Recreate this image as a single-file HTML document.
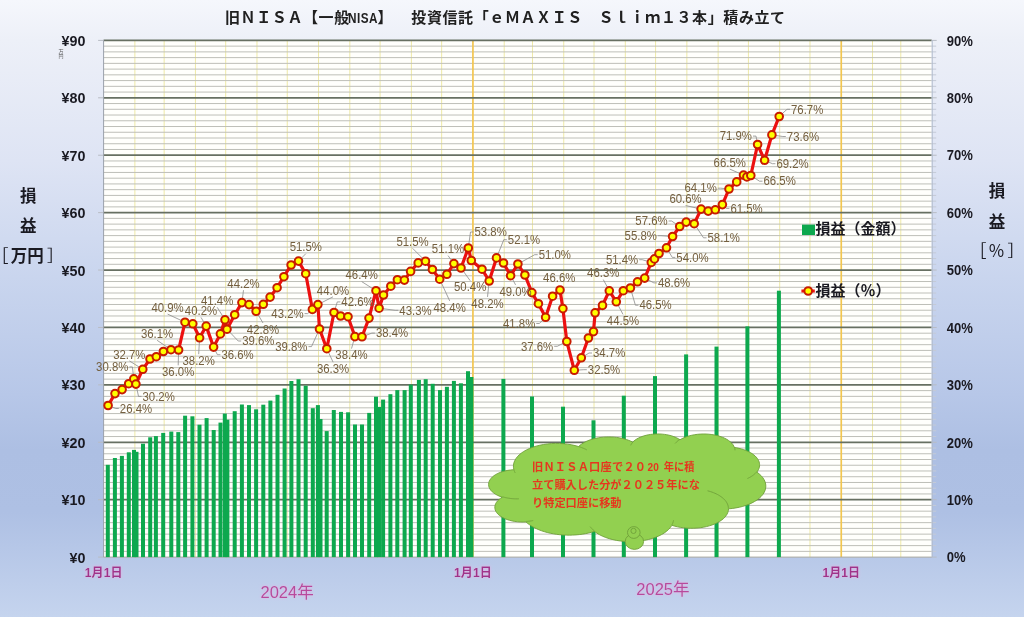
<!DOCTYPE html><html><head><meta charset="utf-8"><style>html,body{margin:0;padding:0;background:#fff;}svg{display:block}.jp{font-family:"Liberation Sans","Noto Sans CJK JP",sans-serif}</style></head><body>
<svg width="1024" height="617" viewBox="0 0 1024 617">
<defs>
<linearGradient id="bg" x1="0" y1="0" x2="0" y2="1">
<stop offset="0" stop-color="#F5F7FC"/>
<stop offset="0.065" stop-color="#EDF0F8"/>
<stop offset="0.26" stop-color="#DEE4F4"/>
<stop offset="0.45" stop-color="#C9D5EE"/>
<stop offset="0.64" stop-color="#B7C7E8"/>
<stop offset="0.73" stop-color="#ADBFE3"/>
<stop offset="0.83" stop-color="#AEC0E4"/>
<stop offset="1" stop-color="#C5D4EE"/>
</linearGradient>
<filter id="glow" x="-20%" y="-40%" width="140%" height="180%">
<feGaussianBlur in="SourceAlpha" stdDeviation="1.6" result="b"/>
<feFlood flood-color="#F0A8E0" flood-opacity="0.9"/>
<feComposite in2="b" operator="in" result="g"/>
<feMerge><feMergeNode in="g"/><feMergeNode in="SourceGraphic"/></feMerge>
</filter>
</defs>
<rect x="0" y="0" width="1024" height="617" fill="url(#bg)"/>
<rect x="103.6" y="40.4" width="828.10" height="516.70" fill="#FFFFFC"/>
<line x1="134.88" y1="40.4" x2="134.88" y2="557.1" stroke="#EEE9A6" stroke-width="1"/><line x1="164.15" y1="40.4" x2="164.15" y2="557.1" stroke="#EEE9A6" stroke-width="1"/><line x1="195.43" y1="40.4" x2="195.43" y2="557.1" stroke="#EEE9A6" stroke-width="1"/><line x1="225.70" y1="40.4" x2="225.70" y2="557.1" stroke="#EEE9A6" stroke-width="1"/><line x1="256.98" y1="40.4" x2="256.98" y2="557.1" stroke="#EEE9A6" stroke-width="1"/><line x1="287.26" y1="40.4" x2="287.26" y2="557.1" stroke="#EEE9A6" stroke-width="1"/><line x1="318.54" y1="40.4" x2="318.54" y2="557.1" stroke="#EEE9A6" stroke-width="1"/><line x1="349.82" y1="40.4" x2="349.82" y2="557.1" stroke="#EEE9A6" stroke-width="1"/><line x1="380.09" y1="40.4" x2="380.09" y2="557.1" stroke="#EEE9A6" stroke-width="1"/><line x1="411.38" y1="40.4" x2="411.38" y2="557.1" stroke="#EEE9A6" stroke-width="1"/><line x1="441.65" y1="40.4" x2="441.65" y2="557.1" stroke="#EEE9A6" stroke-width="1"/><line x1="504.21" y1="40.4" x2="504.21" y2="557.1" stroke="#EEE9A6" stroke-width="1"/><line x1="532.47" y1="40.4" x2="532.47" y2="557.1" stroke="#EEE9A6" stroke-width="1"/><line x1="563.75" y1="40.4" x2="563.75" y2="557.1" stroke="#EEE9A6" stroke-width="1"/><line x1="594.02" y1="40.4" x2="594.02" y2="557.1" stroke="#EEE9A6" stroke-width="1"/><line x1="625.30" y1="40.4" x2="625.30" y2="557.1" stroke="#EEE9A6" stroke-width="1"/><line x1="655.58" y1="40.4" x2="655.58" y2="557.1" stroke="#EEE9A6" stroke-width="1"/><line x1="686.86" y1="40.4" x2="686.86" y2="557.1" stroke="#EEE9A6" stroke-width="1"/><line x1="718.14" y1="40.4" x2="718.14" y2="557.1" stroke="#EEE9A6" stroke-width="1"/><line x1="748.41" y1="40.4" x2="748.41" y2="557.1" stroke="#EEE9A6" stroke-width="1"/><line x1="779.70" y1="40.4" x2="779.70" y2="557.1" stroke="#EEE9A6" stroke-width="1"/><line x1="809.97" y1="40.4" x2="809.97" y2="557.1" stroke="#EEE9A6" stroke-width="1"/><line x1="872.53" y1="40.4" x2="872.53" y2="557.1" stroke="#EEE9A6" stroke-width="1"/><line x1="900.79" y1="40.4" x2="900.79" y2="557.1" stroke="#EEE9A6" stroke-width="1"/>
<line x1="103.6" y1="551.36" x2="931.7" y2="551.36" stroke="#BEBFB8" stroke-width="1"/><line x1="103.6" y1="545.62" x2="931.7" y2="545.62" stroke="#BEBFB8" stroke-width="1"/><line x1="103.6" y1="539.88" x2="931.7" y2="539.88" stroke="#BEBFB8" stroke-width="1"/><line x1="103.6" y1="534.14" x2="931.7" y2="534.14" stroke="#BEBFB8" stroke-width="1"/><line x1="103.6" y1="528.39" x2="931.7" y2="528.39" stroke="#BEBFB8" stroke-width="1"/><line x1="103.6" y1="522.65" x2="931.7" y2="522.65" stroke="#BEBFB8" stroke-width="1"/><line x1="103.6" y1="516.91" x2="931.7" y2="516.91" stroke="#BEBFB8" stroke-width="1"/><line x1="103.6" y1="511.17" x2="931.7" y2="511.17" stroke="#BEBFB8" stroke-width="1"/><line x1="103.6" y1="505.43" x2="931.7" y2="505.43" stroke="#BEBFB8" stroke-width="1"/><line x1="103.6" y1="493.95" x2="931.7" y2="493.95" stroke="#BEBFB8" stroke-width="1"/><line x1="103.6" y1="488.21" x2="931.7" y2="488.21" stroke="#BEBFB8" stroke-width="1"/><line x1="103.6" y1="482.47" x2="931.7" y2="482.47" stroke="#BEBFB8" stroke-width="1"/><line x1="103.6" y1="476.72" x2="931.7" y2="476.72" stroke="#BEBFB8" stroke-width="1"/><line x1="103.6" y1="470.98" x2="931.7" y2="470.98" stroke="#BEBFB8" stroke-width="1"/><line x1="103.6" y1="465.24" x2="931.7" y2="465.24" stroke="#BEBFB8" stroke-width="1"/><line x1="103.6" y1="459.50" x2="931.7" y2="459.50" stroke="#BEBFB8" stroke-width="1"/><line x1="103.6" y1="453.76" x2="931.7" y2="453.76" stroke="#BEBFB8" stroke-width="1"/><line x1="103.6" y1="448.02" x2="931.7" y2="448.02" stroke="#BEBFB8" stroke-width="1"/><line x1="103.6" y1="436.54" x2="931.7" y2="436.54" stroke="#BEBFB8" stroke-width="1"/><line x1="103.6" y1="430.80" x2="931.7" y2="430.80" stroke="#BEBFB8" stroke-width="1"/><line x1="103.6" y1="425.05" x2="931.7" y2="425.05" stroke="#BEBFB8" stroke-width="1"/><line x1="103.6" y1="419.31" x2="931.7" y2="419.31" stroke="#BEBFB8" stroke-width="1"/><line x1="103.6" y1="413.57" x2="931.7" y2="413.57" stroke="#BEBFB8" stroke-width="1"/><line x1="103.6" y1="407.83" x2="931.7" y2="407.83" stroke="#BEBFB8" stroke-width="1"/><line x1="103.6" y1="402.09" x2="931.7" y2="402.09" stroke="#BEBFB8" stroke-width="1"/><line x1="103.6" y1="396.35" x2="931.7" y2="396.35" stroke="#BEBFB8" stroke-width="1"/><line x1="103.6" y1="390.61" x2="931.7" y2="390.61" stroke="#BEBFB8" stroke-width="1"/><line x1="103.6" y1="379.13" x2="931.7" y2="379.13" stroke="#BEBFB8" stroke-width="1"/><line x1="103.6" y1="373.38" x2="931.7" y2="373.38" stroke="#BEBFB8" stroke-width="1"/><line x1="103.6" y1="367.64" x2="931.7" y2="367.64" stroke="#BEBFB8" stroke-width="1"/><line x1="103.6" y1="361.90" x2="931.7" y2="361.90" stroke="#BEBFB8" stroke-width="1"/><line x1="103.6" y1="356.16" x2="931.7" y2="356.16" stroke="#BEBFB8" stroke-width="1"/><line x1="103.6" y1="350.42" x2="931.7" y2="350.42" stroke="#BEBFB8" stroke-width="1"/><line x1="103.6" y1="344.68" x2="931.7" y2="344.68" stroke="#BEBFB8" stroke-width="1"/><line x1="103.6" y1="338.94" x2="931.7" y2="338.94" stroke="#BEBFB8" stroke-width="1"/><line x1="103.6" y1="333.20" x2="931.7" y2="333.20" stroke="#BEBFB8" stroke-width="1"/><line x1="103.6" y1="321.71" x2="931.7" y2="321.71" stroke="#BEBFB8" stroke-width="1"/><line x1="103.6" y1="315.97" x2="931.7" y2="315.97" stroke="#BEBFB8" stroke-width="1"/><line x1="103.6" y1="310.23" x2="931.7" y2="310.23" stroke="#BEBFB8" stroke-width="1"/><line x1="103.6" y1="304.49" x2="931.7" y2="304.49" stroke="#BEBFB8" stroke-width="1"/><line x1="103.6" y1="298.75" x2="931.7" y2="298.75" stroke="#BEBFB8" stroke-width="1"/><line x1="103.6" y1="293.01" x2="931.7" y2="293.01" stroke="#BEBFB8" stroke-width="1"/><line x1="103.6" y1="287.27" x2="931.7" y2="287.27" stroke="#BEBFB8" stroke-width="1"/><line x1="103.6" y1="281.53" x2="931.7" y2="281.53" stroke="#BEBFB8" stroke-width="1"/><line x1="103.6" y1="275.79" x2="931.7" y2="275.79" stroke="#BEBFB8" stroke-width="1"/><line x1="103.6" y1="264.30" x2="931.7" y2="264.30" stroke="#BEBFB8" stroke-width="1"/><line x1="103.6" y1="258.56" x2="931.7" y2="258.56" stroke="#BEBFB8" stroke-width="1"/><line x1="103.6" y1="252.82" x2="931.7" y2="252.82" stroke="#BEBFB8" stroke-width="1"/><line x1="103.6" y1="247.08" x2="931.7" y2="247.08" stroke="#BEBFB8" stroke-width="1"/><line x1="103.6" y1="241.34" x2="931.7" y2="241.34" stroke="#BEBFB8" stroke-width="1"/><line x1="103.6" y1="235.60" x2="931.7" y2="235.60" stroke="#BEBFB8" stroke-width="1"/><line x1="103.6" y1="229.86" x2="931.7" y2="229.86" stroke="#BEBFB8" stroke-width="1"/><line x1="103.6" y1="224.12" x2="931.7" y2="224.12" stroke="#BEBFB8" stroke-width="1"/><line x1="103.6" y1="218.37" x2="931.7" y2="218.37" stroke="#BEBFB8" stroke-width="1"/><line x1="103.6" y1="206.89" x2="931.7" y2="206.89" stroke="#BEBFB8" stroke-width="1"/><line x1="103.6" y1="201.15" x2="931.7" y2="201.15" stroke="#BEBFB8" stroke-width="1"/><line x1="103.6" y1="195.41" x2="931.7" y2="195.41" stroke="#BEBFB8" stroke-width="1"/><line x1="103.6" y1="189.67" x2="931.7" y2="189.67" stroke="#BEBFB8" stroke-width="1"/><line x1="103.6" y1="183.93" x2="931.7" y2="183.93" stroke="#BEBFB8" stroke-width="1"/><line x1="103.6" y1="178.19" x2="931.7" y2="178.19" stroke="#BEBFB8" stroke-width="1"/><line x1="103.6" y1="172.45" x2="931.7" y2="172.45" stroke="#BEBFB8" stroke-width="1"/><line x1="103.6" y1="166.70" x2="931.7" y2="166.70" stroke="#BEBFB8" stroke-width="1"/><line x1="103.6" y1="160.96" x2="931.7" y2="160.96" stroke="#BEBFB8" stroke-width="1"/><line x1="103.6" y1="149.48" x2="931.7" y2="149.48" stroke="#BEBFB8" stroke-width="1"/><line x1="103.6" y1="143.74" x2="931.7" y2="143.74" stroke="#BEBFB8" stroke-width="1"/><line x1="103.6" y1="138.00" x2="931.7" y2="138.00" stroke="#BEBFB8" stroke-width="1"/><line x1="103.6" y1="132.26" x2="931.7" y2="132.26" stroke="#BEBFB8" stroke-width="1"/><line x1="103.6" y1="126.52" x2="931.7" y2="126.52" stroke="#BEBFB8" stroke-width="1"/><line x1="103.6" y1="120.78" x2="931.7" y2="120.78" stroke="#BEBFB8" stroke-width="1"/><line x1="103.6" y1="115.03" x2="931.7" y2="115.03" stroke="#BEBFB8" stroke-width="1"/><line x1="103.6" y1="109.29" x2="931.7" y2="109.29" stroke="#BEBFB8" stroke-width="1"/><line x1="103.6" y1="103.55" x2="931.7" y2="103.55" stroke="#BEBFB8" stroke-width="1"/><line x1="103.6" y1="92.07" x2="931.7" y2="92.07" stroke="#BEBFB8" stroke-width="1"/><line x1="103.6" y1="86.33" x2="931.7" y2="86.33" stroke="#BEBFB8" stroke-width="1"/><line x1="103.6" y1="80.59" x2="931.7" y2="80.59" stroke="#BEBFB8" stroke-width="1"/><line x1="103.6" y1="74.85" x2="931.7" y2="74.85" stroke="#BEBFB8" stroke-width="1"/><line x1="103.6" y1="69.11" x2="931.7" y2="69.11" stroke="#BEBFB8" stroke-width="1"/><line x1="103.6" y1="63.36" x2="931.7" y2="63.36" stroke="#BEBFB8" stroke-width="1"/><line x1="103.6" y1="57.62" x2="931.7" y2="57.62" stroke="#BEBFB8" stroke-width="1"/><line x1="103.6" y1="51.88" x2="931.7" y2="51.88" stroke="#BEBFB8" stroke-width="1"/><line x1="103.6" y1="46.14" x2="931.7" y2="46.14" stroke="#BEBFB8" stroke-width="1"/>
<line x1="931.7" y1="551.36" x2="936.2" y2="551.36" stroke="#C4CAD6" stroke-width="1"/><line x1="931.7" y1="545.62" x2="936.2" y2="545.62" stroke="#C4CAD6" stroke-width="1"/><line x1="931.7" y1="539.88" x2="936.2" y2="539.88" stroke="#C4CAD6" stroke-width="1"/><line x1="931.7" y1="534.14" x2="936.2" y2="534.14" stroke="#C4CAD6" stroke-width="1"/><line x1="931.7" y1="528.39" x2="936.2" y2="528.39" stroke="#C4CAD6" stroke-width="1"/><line x1="931.7" y1="522.65" x2="936.2" y2="522.65" stroke="#C4CAD6" stroke-width="1"/><line x1="931.7" y1="516.91" x2="936.2" y2="516.91" stroke="#C4CAD6" stroke-width="1"/><line x1="931.7" y1="511.17" x2="936.2" y2="511.17" stroke="#C4CAD6" stroke-width="1"/><line x1="931.7" y1="505.43" x2="936.2" y2="505.43" stroke="#C4CAD6" stroke-width="1"/><line x1="931.7" y1="493.95" x2="936.2" y2="493.95" stroke="#C4CAD6" stroke-width="1"/><line x1="931.7" y1="488.21" x2="936.2" y2="488.21" stroke="#C4CAD6" stroke-width="1"/><line x1="931.7" y1="482.47" x2="936.2" y2="482.47" stroke="#C4CAD6" stroke-width="1"/><line x1="931.7" y1="476.72" x2="936.2" y2="476.72" stroke="#C4CAD6" stroke-width="1"/><line x1="931.7" y1="470.98" x2="936.2" y2="470.98" stroke="#C4CAD6" stroke-width="1"/><line x1="931.7" y1="465.24" x2="936.2" y2="465.24" stroke="#C4CAD6" stroke-width="1"/><line x1="931.7" y1="459.50" x2="936.2" y2="459.50" stroke="#C4CAD6" stroke-width="1"/><line x1="931.7" y1="453.76" x2="936.2" y2="453.76" stroke="#C4CAD6" stroke-width="1"/><line x1="931.7" y1="448.02" x2="936.2" y2="448.02" stroke="#C4CAD6" stroke-width="1"/><line x1="931.7" y1="436.54" x2="936.2" y2="436.54" stroke="#C4CAD6" stroke-width="1"/><line x1="931.7" y1="430.80" x2="936.2" y2="430.80" stroke="#C4CAD6" stroke-width="1"/><line x1="931.7" y1="425.05" x2="936.2" y2="425.05" stroke="#C4CAD6" stroke-width="1"/><line x1="931.7" y1="419.31" x2="936.2" y2="419.31" stroke="#C4CAD6" stroke-width="1"/><line x1="931.7" y1="413.57" x2="936.2" y2="413.57" stroke="#C4CAD6" stroke-width="1"/><line x1="931.7" y1="407.83" x2="936.2" y2="407.83" stroke="#C4CAD6" stroke-width="1"/><line x1="931.7" y1="402.09" x2="936.2" y2="402.09" stroke="#C4CAD6" stroke-width="1"/><line x1="931.7" y1="396.35" x2="936.2" y2="396.35" stroke="#C4CAD6" stroke-width="1"/><line x1="931.7" y1="390.61" x2="936.2" y2="390.61" stroke="#C4CAD6" stroke-width="1"/><line x1="931.7" y1="379.13" x2="936.2" y2="379.13" stroke="#C4CAD6" stroke-width="1"/><line x1="931.7" y1="373.38" x2="936.2" y2="373.38" stroke="#C4CAD6" stroke-width="1"/><line x1="931.7" y1="367.64" x2="936.2" y2="367.64" stroke="#C4CAD6" stroke-width="1"/><line x1="931.7" y1="361.90" x2="936.2" y2="361.90" stroke="#C4CAD6" stroke-width="1"/><line x1="931.7" y1="356.16" x2="936.2" y2="356.16" stroke="#C4CAD6" stroke-width="1"/><line x1="931.7" y1="350.42" x2="936.2" y2="350.42" stroke="#C4CAD6" stroke-width="1"/><line x1="931.7" y1="344.68" x2="936.2" y2="344.68" stroke="#C4CAD6" stroke-width="1"/><line x1="931.7" y1="338.94" x2="936.2" y2="338.94" stroke="#C4CAD6" stroke-width="1"/><line x1="931.7" y1="333.20" x2="936.2" y2="333.20" stroke="#C4CAD6" stroke-width="1"/><line x1="931.7" y1="321.71" x2="936.2" y2="321.71" stroke="#C4CAD6" stroke-width="1"/><line x1="931.7" y1="315.97" x2="936.2" y2="315.97" stroke="#C4CAD6" stroke-width="1"/><line x1="931.7" y1="310.23" x2="936.2" y2="310.23" stroke="#C4CAD6" stroke-width="1"/><line x1="931.7" y1="304.49" x2="936.2" y2="304.49" stroke="#C4CAD6" stroke-width="1"/><line x1="931.7" y1="298.75" x2="936.2" y2="298.75" stroke="#C4CAD6" stroke-width="1"/><line x1="931.7" y1="293.01" x2="936.2" y2="293.01" stroke="#C4CAD6" stroke-width="1"/><line x1="931.7" y1="287.27" x2="936.2" y2="287.27" stroke="#C4CAD6" stroke-width="1"/><line x1="931.7" y1="281.53" x2="936.2" y2="281.53" stroke="#C4CAD6" stroke-width="1"/><line x1="931.7" y1="275.79" x2="936.2" y2="275.79" stroke="#C4CAD6" stroke-width="1"/><line x1="931.7" y1="264.30" x2="936.2" y2="264.30" stroke="#C4CAD6" stroke-width="1"/><line x1="931.7" y1="258.56" x2="936.2" y2="258.56" stroke="#C4CAD6" stroke-width="1"/><line x1="931.7" y1="252.82" x2="936.2" y2="252.82" stroke="#C4CAD6" stroke-width="1"/><line x1="931.7" y1="247.08" x2="936.2" y2="247.08" stroke="#C4CAD6" stroke-width="1"/><line x1="931.7" y1="241.34" x2="936.2" y2="241.34" stroke="#C4CAD6" stroke-width="1"/><line x1="931.7" y1="235.60" x2="936.2" y2="235.60" stroke="#C4CAD6" stroke-width="1"/><line x1="931.7" y1="229.86" x2="936.2" y2="229.86" stroke="#C4CAD6" stroke-width="1"/><line x1="931.7" y1="224.12" x2="936.2" y2="224.12" stroke="#C4CAD6" stroke-width="1"/><line x1="931.7" y1="218.37" x2="936.2" y2="218.37" stroke="#C4CAD6" stroke-width="1"/><line x1="931.7" y1="206.89" x2="936.2" y2="206.89" stroke="#C4CAD6" stroke-width="1"/><line x1="931.7" y1="201.15" x2="936.2" y2="201.15" stroke="#C4CAD6" stroke-width="1"/><line x1="931.7" y1="195.41" x2="936.2" y2="195.41" stroke="#C4CAD6" stroke-width="1"/><line x1="931.7" y1="189.67" x2="936.2" y2="189.67" stroke="#C4CAD6" stroke-width="1"/><line x1="931.7" y1="183.93" x2="936.2" y2="183.93" stroke="#C4CAD6" stroke-width="1"/><line x1="931.7" y1="178.19" x2="936.2" y2="178.19" stroke="#C4CAD6" stroke-width="1"/><line x1="931.7" y1="172.45" x2="936.2" y2="172.45" stroke="#C4CAD6" stroke-width="1"/><line x1="931.7" y1="166.70" x2="936.2" y2="166.70" stroke="#C4CAD6" stroke-width="1"/><line x1="931.7" y1="160.96" x2="936.2" y2="160.96" stroke="#C4CAD6" stroke-width="1"/><line x1="931.7" y1="149.48" x2="936.2" y2="149.48" stroke="#C4CAD6" stroke-width="1"/><line x1="931.7" y1="143.74" x2="936.2" y2="143.74" stroke="#C4CAD6" stroke-width="1"/><line x1="931.7" y1="138.00" x2="936.2" y2="138.00" stroke="#C4CAD6" stroke-width="1"/><line x1="931.7" y1="132.26" x2="936.2" y2="132.26" stroke="#C4CAD6" stroke-width="1"/><line x1="931.7" y1="126.52" x2="936.2" y2="126.52" stroke="#C4CAD6" stroke-width="1"/><line x1="931.7" y1="120.78" x2="936.2" y2="120.78" stroke="#C4CAD6" stroke-width="1"/><line x1="931.7" y1="115.03" x2="936.2" y2="115.03" stroke="#C4CAD6" stroke-width="1"/><line x1="931.7" y1="109.29" x2="936.2" y2="109.29" stroke="#C4CAD6" stroke-width="1"/><line x1="931.7" y1="103.55" x2="936.2" y2="103.55" stroke="#C4CAD6" stroke-width="1"/><line x1="931.7" y1="92.07" x2="936.2" y2="92.07" stroke="#C4CAD6" stroke-width="1"/><line x1="931.7" y1="86.33" x2="936.2" y2="86.33" stroke="#C4CAD6" stroke-width="1"/><line x1="931.7" y1="80.59" x2="936.2" y2="80.59" stroke="#C4CAD6" stroke-width="1"/><line x1="931.7" y1="74.85" x2="936.2" y2="74.85" stroke="#C4CAD6" stroke-width="1"/><line x1="931.7" y1="69.11" x2="936.2" y2="69.11" stroke="#C4CAD6" stroke-width="1"/><line x1="931.7" y1="63.36" x2="936.2" y2="63.36" stroke="#C4CAD6" stroke-width="1"/><line x1="931.7" y1="57.62" x2="936.2" y2="57.62" stroke="#C4CAD6" stroke-width="1"/><line x1="931.7" y1="51.88" x2="936.2" y2="51.88" stroke="#C4CAD6" stroke-width="1"/><line x1="931.7" y1="46.14" x2="936.2" y2="46.14" stroke="#C4CAD6" stroke-width="1"/>
<line x1="472.93" y1="40.4" x2="472.93" y2="557.1" stroke="#F2C650" stroke-width="1.7"/>
<line x1="841.25" y1="40.4" x2="841.25" y2="557.1" stroke="#F2C650" stroke-width="1.7"/>
<line x1="98.1" y1="557.10" x2="103.6" y2="557.10" stroke="#B8BCC4" stroke-width="1"/><line x1="931.7" y1="557.10" x2="936.7" y2="557.10" stroke="#B8BCC4" stroke-width="1"/><line x1="103.6" y1="499.69" x2="931.7" y2="499.69" stroke="#677062" stroke-width="1.7"/><line x1="98.1" y1="499.69" x2="103.6" y2="499.69" stroke="#B8BCC4" stroke-width="1"/><line x1="931.7" y1="499.69" x2="936.7" y2="499.69" stroke="#B8BCC4" stroke-width="1"/><line x1="103.6" y1="442.28" x2="931.7" y2="442.28" stroke="#677062" stroke-width="1.7"/><line x1="98.1" y1="442.28" x2="103.6" y2="442.28" stroke="#B8BCC4" stroke-width="1"/><line x1="931.7" y1="442.28" x2="936.7" y2="442.28" stroke="#B8BCC4" stroke-width="1"/><line x1="103.6" y1="384.87" x2="931.7" y2="384.87" stroke="#677062" stroke-width="1.7"/><line x1="98.1" y1="384.87" x2="103.6" y2="384.87" stroke="#B8BCC4" stroke-width="1"/><line x1="931.7" y1="384.87" x2="936.7" y2="384.87" stroke="#B8BCC4" stroke-width="1"/><line x1="103.6" y1="327.46" x2="931.7" y2="327.46" stroke="#677062" stroke-width="1.7"/><line x1="98.1" y1="327.46" x2="103.6" y2="327.46" stroke="#B8BCC4" stroke-width="1"/><line x1="931.7" y1="327.46" x2="936.7" y2="327.46" stroke="#B8BCC4" stroke-width="1"/><line x1="103.6" y1="270.04" x2="931.7" y2="270.04" stroke="#677062" stroke-width="1.7"/><line x1="98.1" y1="270.04" x2="103.6" y2="270.04" stroke="#B8BCC4" stroke-width="1"/><line x1="931.7" y1="270.04" x2="936.7" y2="270.04" stroke="#B8BCC4" stroke-width="1"/><line x1="103.6" y1="212.63" x2="931.7" y2="212.63" stroke="#677062" stroke-width="1.7"/><line x1="98.1" y1="212.63" x2="103.6" y2="212.63" stroke="#B8BCC4" stroke-width="1"/><line x1="931.7" y1="212.63" x2="936.7" y2="212.63" stroke="#B8BCC4" stroke-width="1"/><line x1="103.6" y1="155.22" x2="931.7" y2="155.22" stroke="#677062" stroke-width="1.7"/><line x1="98.1" y1="155.22" x2="103.6" y2="155.22" stroke="#B8BCC4" stroke-width="1"/><line x1="931.7" y1="155.22" x2="936.7" y2="155.22" stroke="#B8BCC4" stroke-width="1"/><line x1="103.6" y1="97.81" x2="931.7" y2="97.81" stroke="#677062" stroke-width="1.7"/><line x1="98.1" y1="97.81" x2="103.6" y2="97.81" stroke="#B8BCC4" stroke-width="1"/><line x1="931.7" y1="97.81" x2="936.7" y2="97.81" stroke="#B8BCC4" stroke-width="1"/><line x1="103.6" y1="40.40" x2="931.7" y2="40.40" stroke="#677062" stroke-width="1.7"/><line x1="98.1" y1="40.40" x2="103.6" y2="40.40" stroke="#B8BCC4" stroke-width="1"/><line x1="931.7" y1="40.40" x2="936.7" y2="40.40" stroke="#B8BCC4" stroke-width="1"/>
<line x1="103.6" y1="40.4" x2="103.6" y2="557.1" stroke="#9AA0AA" stroke-width="1"/>
<line x1="103.6" y1="557.1" x2="931.7" y2="557.1" stroke="#A8A8A0" stroke-width="1"/>
<line x1="932.2" y1="40.4" x2="932.2" y2="557.1" stroke="#B0BACB" stroke-width="1"/>
<rect x="105.80" y="464.80" width="4.0" height="92.30" fill="#0DA84E"/><rect x="112.90" y="458.00" width="4.0" height="99.10" fill="#0DA84E"/><rect x="119.90" y="455.90" width="4.0" height="101.20" fill="#0DA84E"/><rect x="126.80" y="452.30" width="4.0" height="104.80" fill="#0DA84E"/><rect x="132.00" y="449.90" width="4.0" height="107.20" fill="#0DA84E"/><rect x="134.50" y="451.80" width="4.0" height="105.30" fill="#0DA84E"/><rect x="141.00" y="443.70" width="4.0" height="113.40" fill="#0DA84E"/><rect x="148.20" y="437.30" width="4.0" height="119.80" fill="#0DA84E"/><rect x="153.90" y="436.10" width="4.0" height="121.00" fill="#0DA84E"/><rect x="161.20" y="432.90" width="4.0" height="124.20" fill="#0DA84E"/><rect x="169.30" y="431.60" width="4.0" height="125.50" fill="#0DA84E"/><rect x="176.30" y="432.10" width="4.0" height="125.00" fill="#0DA84E"/><rect x="183.10" y="415.70" width="4.0" height="141.40" fill="#0DA84E"/><rect x="190.40" y="416.30" width="4.0" height="140.80" fill="#0DA84E"/><rect x="197.50" y="424.70" width="4.0" height="132.40" fill="#0DA84E"/><rect x="204.60" y="418.10" width="4.0" height="139.00" fill="#0DA84E"/><rect x="211.70" y="430.00" width="4.0" height="127.10" fill="#0DA84E"/><rect x="218.50" y="422.60" width="4.0" height="134.50" fill="#0DA84E"/><rect x="222.80" y="413.60" width="4.0" height="143.50" fill="#0DA84E"/><rect x="225.40" y="419.70" width="4.0" height="137.40" fill="#0DA84E"/><rect x="232.70" y="411.20" width="4.0" height="145.90" fill="#0DA84E"/><rect x="239.90" y="404.50" width="4.0" height="152.60" fill="#0DA84E"/><rect x="247.00" y="405.10" width="4.0" height="152.00" fill="#0DA84E"/><rect x="254.10" y="409.30" width="4.0" height="147.80" fill="#0DA84E"/><rect x="261.30" y="404.70" width="4.0" height="152.40" fill="#0DA84E"/><rect x="268.40" y="400.60" width="4.0" height="156.50" fill="#0DA84E"/><rect x="275.50" y="394.80" width="4.0" height="162.30" fill="#0DA84E"/><rect x="282.60" y="388.50" width="4.0" height="168.60" fill="#0DA84E"/><rect x="289.40" y="381.00" width="4.0" height="176.10" fill="#0DA84E"/><rect x="296.50" y="379.20" width="4.0" height="177.90" fill="#0DA84E"/><rect x="303.70" y="385.70" width="4.0" height="171.40" fill="#0DA84E"/><rect x="310.80" y="408.20" width="4.0" height="148.90" fill="#0DA84E"/><rect x="315.90" y="405.10" width="4.0" height="152.00" fill="#0DA84E"/><rect x="318.50" y="419.00" width="4.0" height="138.10" fill="#0DA84E"/><rect x="324.70" y="431.10" width="4.0" height="126.00" fill="#0DA84E"/><rect x="331.80" y="410.00" width="4.0" height="147.10" fill="#0DA84E"/><rect x="339.00" y="411.90" width="4.0" height="145.20" fill="#0DA84E"/><rect x="346.10" y="412.30" width="4.0" height="144.80" fill="#0DA84E"/><rect x="353.00" y="424.50" width="4.0" height="132.60" fill="#0DA84E"/><rect x="360.00" y="424.50" width="4.0" height="132.60" fill="#0DA84E"/><rect x="367.20" y="412.90" width="4.0" height="144.20" fill="#0DA84E"/><rect x="374.00" y="396.70" width="4.0" height="160.40" fill="#0DA84E"/><rect x="377.10" y="406.90" width="4.0" height="150.20" fill="#0DA84E"/><rect x="381.10" y="399.60" width="4.0" height="157.50" fill="#0DA84E"/><rect x="388.40" y="394.20" width="4.0" height="162.90" fill="#0DA84E"/><rect x="395.30" y="390.10" width="4.0" height="167.00" fill="#0DA84E"/><rect x="402.60" y="390.10" width="4.0" height="167.00" fill="#0DA84E"/><rect x="408.80" y="384.60" width="4.0" height="172.50" fill="#0DA84E"/><rect x="416.90" y="379.90" width="4.0" height="177.20" fill="#0DA84E"/><rect x="423.70" y="379.20" width="4.0" height="177.90" fill="#0DA84E"/><rect x="430.70" y="383.80" width="4.0" height="173.30" fill="#0DA84E"/><rect x="438.00" y="390.10" width="4.0" height="167.00" fill="#0DA84E"/><rect x="444.90" y="386.80" width="4.0" height="170.30" fill="#0DA84E"/><rect x="451.90" y="380.90" width="4.0" height="176.20" fill="#0DA84E"/><rect x="458.90" y="383.30" width="4.0" height="173.80" fill="#0DA84E"/><rect x="466.00" y="371.20" width="4.0" height="185.90" fill="#0DA84E"/><rect x="469.40" y="377.00" width="4.0" height="180.10" fill="#0DA84E"/><rect x="501.40" y="378.90" width="4.0" height="178.20" fill="#0DA84E"/><rect x="530.00" y="396.50" width="4.0" height="160.60" fill="#0DA84E"/><rect x="561.00" y="406.70" width="4.0" height="150.40" fill="#0DA84E"/><rect x="591.50" y="420.30" width="4.0" height="136.80" fill="#0DA84E"/><rect x="621.80" y="395.70" width="4.0" height="161.40" fill="#0DA84E"/><rect x="653.00" y="376.10" width="4.0" height="181.00" fill="#0DA84E"/><rect x="684.10" y="354.40" width="4.0" height="202.70" fill="#0DA84E"/><rect x="714.50" y="346.60" width="4.0" height="210.50" fill="#0DA84E"/><rect x="745.40" y="326.40" width="4.0" height="230.70" fill="#0DA84E"/><rect x="776.90" y="290.70" width="4.0" height="266.40" fill="#0DA84E"/>
<path d="M513.80,469.39 L513.44,467.27 L513.46,465.14 L513.85,463.02 L514.62,460.92 L515.75,458.88 L517.23,456.89 L519.06,454.99 L521.21,453.19 L523.67,451.50 L526.42,449.94 L529.43,448.53 L532.68,447.26 L536.13,446.16 L539.77,445.24 L543.54,444.50 L547.44,443.95 L551.41,443.59 L555.43,443.43 L559.46,443.46 L563.47,443.70 L567.42,444.13 L571.27,444.76 L575.00,445.57 L578.57,446.56 L579.90,445.34 L581.41,444.19 L583.08,443.10 L584.90,442.09 L586.87,441.15 L588.97,440.29 L591.18,439.52 L593.51,438.85 L595.92,438.27 L598.41,437.80 L600.96,437.42 L603.56,437.16 L606.20,437.00 L608.84,436.95 L611.49,437.01 L614.12,437.17 L616.72,437.45 L619.27,437.82 L621.75,438.31 L624.16,438.89 L626.48,439.57 L628.69,440.34 L630.78,441.20 L632.74,442.15 L633.88,441.05 L635.19,440.01 L636.67,439.04 L638.29,438.13 L640.06,437.30 L641.95,436.55 L643.95,435.88 L646.05,435.31 L648.24,434.84 L650.49,434.46 L652.80,434.19 L655.14,434.02 L657.50,433.95 L659.86,433.99 L662.20,434.14 L664.52,434.39 L666.79,434.74 L668.99,435.19 L671.11,435.74 L673.14,436.38 L675.06,437.11 L676.85,437.93 L678.51,438.82 L680.02,439.78 L682.02,438.65 L684.21,437.62 L686.57,436.71 L689.09,435.91 L691.74,435.25 L694.49,434.72 L697.33,434.33 L700.22,434.08 L703.14,433.98 L706.07,434.02 L708.98,434.21 L711.85,434.54 L714.64,435.01 L717.33,435.62 L719.91,436.35 L722.34,437.22 L724.61,438.20 L726.69,439.28 L728.57,440.47 L730.23,441.75 L731.65,443.10 L732.83,444.51 L733.75,445.98 L734.41,447.49 L736.73,447.87 L739.00,448.34 L741.20,448.90 L743.32,449.53 L745.35,450.25 L747.27,451.03 L749.09,451.89 L750.79,452.82 L752.35,453.81 L753.79,454.85 L755.07,455.95 L756.21,457.09 L757.19,458.27 L758.01,459.49 L758.66,460.73 L759.15,461.99 L759.46,463.27 L759.60,464.56 L759.57,465.85 L759.36,467.14 L758.99,468.41 L758.44,469.67 L757.72,470.90 L756.84,472.11 L759.01,473.74 L760.90,475.46 L762.49,477.27 L763.79,479.14 L764.78,481.06 L765.44,483.03 L765.78,485.01 L765.80,487.00 L765.48,488.99 L764.85,490.95 L763.89,492.88 L762.62,494.76 L761.05,496.57 L759.18,498.30 L757.04,499.94 L754.64,501.48 L752.00,502.90 L749.13,504.19 L746.06,505.35 L742.82,506.36 L739.41,507.22 L735.89,507.92 L732.26,508.46 L728.55,508.83 L728.38,510.56 L727.92,512.27 L727.18,513.96 L726.16,515.60 L724.86,517.19 L723.31,518.72 L721.51,520.16 L719.47,521.52 L717.22,522.77 L714.76,523.92 L712.12,524.94 L709.33,525.84 L706.39,526.61 L703.33,527.24 L700.19,527.72 L696.97,528.05 L693.71,528.23 L690.44,528.26 L687.17,528.13 L683.94,527.86 L680.76,527.43 L677.67,526.86 L674.69,526.14 L671.84,525.29 L670.47,527.33 L668.76,529.28 L666.70,531.15 L664.33,532.90 L661.65,534.53 L658.70,536.01 L655.49,537.35 L652.07,538.51 L648.45,539.50 L644.68,540.31 L640.77,540.93 L636.78,541.34 L632.73,541.56 L628.66,541.57 L624.60,541.39 L620.60,541.00 L616.68,540.41 L612.89,539.63 L609.25,538.66 L605.79,537.52 L602.56,536.21 L599.57,534.74 L596.85,533.13 L594.44,531.40 L591.57,532.24 L588.60,532.99 L585.55,533.63 L582.42,534.16 L579.24,534.58 L576.01,534.88 L572.75,535.07 L569.47,535.15 L566.19,535.11 L562.92,534.96 L559.68,534.69 L556.48,534.30 L553.33,533.81 L550.26,533.21 L547.26,532.50 L544.36,531.68 L541.57,530.77 L538.90,529.76 L536.36,528.65 L533.96,527.46 L531.72,526.19 L529.64,524.85 L527.73,523.43 L526.01,521.95 L523.17,522.05 L520.34,521.99 L517.52,521.79 L514.76,521.43 L512.09,520.93 L509.52,520.29 L507.09,519.52 L504.82,518.61 L502.74,517.60 L500.86,516.47 L499.21,515.25 L497.80,513.95 L496.65,512.58 L495.77,511.16 L495.17,509.69 L494.86,508.21 L494.83,506.71 L495.09,505.22 L495.63,503.75 L496.46,502.31 L497.55,500.93 L498.91,499.61 L500.51,498.38 L502.35,497.23 L499.92,496.38 L497.67,495.40 L495.62,494.30 L493.80,493.09 L492.23,491.79 L490.92,490.41 L489.89,488.96 L489.15,487.47 L488.71,485.94 L488.57,484.39 L488.74,482.85 L489.20,481.32 L489.97,479.83 L491.02,478.38 L492.35,477.01 L493.95,475.71 L495.78,474.51 L497.85,473.42 L500.12,472.45 L502.56,471.61 L505.16,470.91 L507.88,470.36 L510.69,469.97 L513.56,469.73Z" fill="#92D050" stroke="#6FA03A" stroke-width="0.9"/><path d="M518.88,498.80 L518.18,498.82 L517.47,498.84 L516.77,498.84 L516.06,498.84 L515.36,498.83 L514.66,498.80 L513.95,498.77 L513.25,498.73 L512.55,498.68 L511.86,498.62 L511.17,498.55 L510.48,498.47 L509.79,498.38 L509.11,498.28 L508.44,498.17 L507.77,498.06 L507.10,497.93 L506.44,497.80 L505.79,497.66 L505.15,497.51 L504.51,497.35 L503.88,497.18 L503.26,497.00 L502.64,496.81" fill="none" stroke="#6FA03A" stroke-width="0.9"/><path d="M533.21,520.52 L532.92,520.58 L532.64,520.64 L532.35,520.70 L532.06,520.75 L531.77,520.80 L531.48,520.85 L531.19,520.90 L530.89,520.95 L530.60,521.00 L530.31,521.04 L530.01,521.08 L529.71,521.12 L529.42,521.16 L529.12,521.20 L528.82,521.23 L528.52,521.27 L528.22,521.30 L527.92,521.33 L527.62,521.36 L527.32,521.39 L527.01,521.41 L526.71,521.43 L526.41,521.45 L526.10,521.47" fill="none" stroke="#6FA03A" stroke-width="0.9"/><path d="M594.42,530.96 L594.21,530.79 L594.00,530.62 L593.79,530.45 L593.59,530.28 L593.39,530.10 L593.19,529.93 L592.99,529.75 L592.80,529.57 L592.61,529.40 L592.42,529.22 L592.24,529.04 L592.06,528.86 L591.88,528.68 L591.71,528.49 L591.54,528.31 L591.37,528.13 L591.21,527.94 L591.04,527.76 L590.89,527.57 L590.73,527.38 L590.58,527.20 L590.43,527.01 L590.28,526.82 L590.14,526.63" fill="none" stroke="#6FA03A" stroke-width="0.9"/><path d="M673.57,520.16 L673.54,520.36 L673.50,520.56 L673.46,520.76 L673.42,520.96 L673.37,521.16 L673.32,521.36 L673.27,521.56 L673.21,521.76 L673.15,521.96 L673.09,522.16 L673.03,522.36 L672.96,522.56 L672.88,522.76 L672.81,522.95 L672.73,523.15 L672.64,523.35 L672.56,523.55 L672.47,523.74 L672.38,523.94 L672.28,524.13 L672.18,524.33 L672.08,524.52 L671.97,524.72 L671.86,524.91" fill="none" stroke="#6FA03A" stroke-width="0.9"/><path d="M707.56,490.77 L709.10,491.19 L710.61,491.65 L712.07,492.15 L713.49,492.68 L714.86,493.25 L716.18,493.85 L717.44,494.48 L718.64,495.14 L719.79,495.83 L720.87,496.55 L721.89,497.30 L722.84,498.07 L723.72,498.86 L724.53,499.67 L725.27,500.50 L725.93,501.35 L726.51,502.22 L727.02,503.10 L727.45,503.99 L727.80,504.89 L728.07,505.80 L728.26,506.71 L728.37,507.63 L728.40,508.55" fill="none" stroke="#6FA03A" stroke-width="0.9"/><path d="M756.71,471.84 L756.45,472.16 L756.17,472.48 L755.89,472.79 L755.59,473.10 L755.28,473.41 L754.95,473.71 L754.62,474.01 L754.28,474.31 L753.93,474.60 L753.56,474.89 L753.19,475.18 L752.80,475.46 L752.41,475.74 L752.00,476.01 L751.59,476.28 L751.16,476.55 L750.73,476.81 L750.28,477.07 L749.83,477.32 L749.37,477.57 L748.90,477.81 L748.42,478.05 L747.93,478.28 L747.43,478.51" fill="none" stroke="#6FA03A" stroke-width="0.9"/><path d="M734.45,447.11 L734.49,447.24 L734.53,447.37 L734.57,447.50 L734.61,447.63 L734.64,447.77 L734.68,447.90 L734.71,448.03 L734.74,448.16 L734.76,448.29 L734.79,448.42 L734.81,448.55 L734.83,448.68 L734.85,448.81 L734.87,448.95 L734.89,449.08 L734.90,449.21 L734.91,449.34 L734.92,449.47 L734.93,449.60 L734.93,449.74 L734.94,449.87 L734.94,450.00 L734.94,450.13 L734.94,450.26" fill="none" stroke="#6FA03A" stroke-width="0.9"/><path d="M675.18,443.44 L675.33,443.26 L675.49,443.08 L675.65,442.90 L675.82,442.73 L675.99,442.55 L676.16,442.37 L676.34,442.20 L676.52,442.03 L676.70,441.85 L676.89,441.68 L677.09,441.51 L677.28,441.35 L677.48,441.18 L677.69,441.01 L677.90,440.85 L678.11,440.68 L678.32,440.52 L678.54,440.36 L678.77,440.20 L678.99,440.05 L679.22,439.89 L679.46,439.73 L679.70,439.58 L679.94,439.43" fill="none" stroke="#6FA03A" stroke-width="0.9"/><path d="M630.72,445.36 L630.78,445.21 L630.85,445.06 L630.92,444.91 L630.99,444.76 L631.06,444.61 L631.14,444.46 L631.22,444.32 L631.30,444.17 L631.39,444.02 L631.48,443.88 L631.57,443.73 L631.67,443.59 L631.76,443.44 L631.86,443.30 L631.97,443.16 L632.07,443.01 L632.18,442.87 L632.29,442.73 L632.41,442.59 L632.52,442.45 L632.64,442.31 L632.77,442.17 L632.89,442.03 L633.02,441.89" fill="none" stroke="#6FA03A" stroke-width="0.9"/><path d="M578.54,446.53 L578.91,446.65 L579.29,446.77 L579.66,446.89 L580.03,447.02 L580.40,447.14 L580.76,447.27 L581.12,447.40 L581.48,447.53 L581.84,447.66 L582.19,447.80 L582.55,447.94 L582.89,448.08 L583.24,448.22 L583.59,448.36 L583.93,448.51 L584.27,448.65 L584.60,448.80 L584.93,448.95 L585.26,449.10 L585.59,449.26 L585.91,449.41 L586.24,449.57 L586.55,449.73 L586.87,449.89" fill="none" stroke="#6FA03A" stroke-width="0.9"/><path d="M515.25,472.93 L515.17,472.78 L515.09,472.64 L515.01,472.49 L514.94,472.35 L514.86,472.20 L514.79,472.06 L514.72,471.91 L514.65,471.76 L514.58,471.62 L514.52,471.47 L514.46,471.32 L514.39,471.17 L514.33,471.03 L514.28,470.88 L514.22,470.73 L514.17,470.58 L514.11,470.44 L514.06,470.29 L514.01,470.14 L513.97,469.99 L513.92,469.84 L513.88,469.69 L513.84,469.54 L513.80,469.39" fill="none" stroke="#6FA03A" stroke-width="0.9"/>
<ellipse cx="634.4" cy="541.5" rx="9.2" ry="7.9" fill="#92D050" stroke="#6FA03A" stroke-width="0.9"/>
<ellipse cx="633.8" cy="532.5" rx="6.3" ry="5.9" fill="#92D050" stroke="#6FA03A" stroke-width="0.9"/>
<ellipse cx="633.5" cy="530.9" rx="2.6" ry="2.6" fill="#92D050" stroke="#6FA03A" stroke-width="0.9"/>
<text x="532" y="489.2" class="jp" font-size="11.2" font-weight="bold" fill="#E6361E">立て購入した分が２０２５年にな</text>
<text x="532" y="507.4" class="jp" font-size="11.2" font-weight="bold" fill="#E6361E">り特定口座に移動</text>
<text x="532" y="471" textLength="114" lengthAdjust="spacing" class="jp" font-size="11.2" font-weight="bold" fill="#E6361E">旧ＮＩＳＡ口座で２０</text>
<text x="647.6" y="471" textLength="11.2" lengthAdjust="spacingAndGlyphs" class="jp" font-size="11.2" font-weight="bold" fill="#E6361E">20</text>
<text x="663.8" y="471" textLength="30.6" lengthAdjust="spacingAndGlyphs" class="jp" font-size="11.2" font-weight="bold" fill="#E6361E">年に積</text>
<polyline points="118.8,408.5 115.8,408.5 108.1,405.5" fill="none" stroke="#8A8A8A" stroke-width="0.8"/><polyline points="141.5,396.4 138.5,396.4 135.9,384.1" fill="none" stroke="#8A8A8A" stroke-width="0.8"/><polyline points="129.4,366.9 132.4,366.9 133.8,378.9" fill="none" stroke="#8A8A8A" stroke-width="0.8"/><polyline points="129.4,360.9 142.8,369.3" fill="none" stroke="#8A8A8A" stroke-width="0.8"/><polyline points="157.1,340.3 171.0,349.7" fill="none" stroke="#8A8A8A" stroke-width="0.8"/><polyline points="178.2,365.3 178.6,350.0" fill="none" stroke="#8A8A8A" stroke-width="0.8"/><polyline points="198.7,354.2 199.6,337.8" fill="none" stroke="#8A8A8A" stroke-width="0.8"/><polyline points="167.6,314.1 185.0,322.2" fill="none" stroke="#8A8A8A" stroke-width="0.8"/><polyline points="201.0,317.4 206.2,326.1" fill="none" stroke="#8A8A8A" stroke-width="0.8"/><polyline points="217.2,307.3 225.0,319.8" fill="none" stroke="#8A8A8A" stroke-width="0.8"/><polyline points="220.4,354.7 217.4,354.7 213.6,347.1" fill="none" stroke="#8A8A8A" stroke-width="0.8"/><polyline points="241.2,341.0 238.2,341.0 227.0,329.2" fill="none" stroke="#8A8A8A" stroke-width="0.8"/><polyline points="243.5,290.2 241.9,302.6" fill="none" stroke="#8A8A8A" stroke-width="0.8"/><polyline points="263.0,323.0 256.1,311.3" fill="none" stroke="#8A8A8A" stroke-width="0.8"/><polyline points="305.9,253.6 298.5,261.1" fill="none" stroke="#8A8A8A" stroke-width="0.8"/><polyline points="304.6,313.6 307.6,313.6 312.4,309.4" fill="none" stroke="#8A8A8A" stroke-width="0.8"/><polyline points="333.0,296.8 317.9,304.6" fill="none" stroke="#8A8A8A" stroke-width="0.8"/><polyline points="340.3,301.9 337.3,301.9 334.0,312.5" fill="none" stroke="#8A8A8A" stroke-width="0.8"/><polyline points="308.5,346.6 311.5,346.6 319.5,329.0" fill="none" stroke="#8A8A8A" stroke-width="0.8"/><polyline points="333.1,362.2 326.8,348.7" fill="none" stroke="#8A8A8A" stroke-width="0.8"/><polyline points="351.5,348.6 354.9,336.6" fill="none" stroke="#8A8A8A" stroke-width="0.8"/><polyline points="374.9,333.1 371.9,333.1 362.0,336.8" fill="none" stroke="#8A8A8A" stroke-width="0.8"/><polyline points="361.7,281.6 376.0,290.7" fill="none" stroke="#8A8A8A" stroke-width="0.8"/><polyline points="398.3,310.3 395.3,310.3 379.1,308.2" fill="none" stroke="#8A8A8A" stroke-width="0.8"/><polyline points="412.6,248.3 425.5,261.2" fill="none" stroke="#8A8A8A" stroke-width="0.8"/><polyline points="449.7,300.9 439.7,279.2" fill="none" stroke="#8A8A8A" stroke-width="0.8"/><polyline points="448.0,255.6 453.9,263.6" fill="none" stroke="#8A8A8A" stroke-width="0.8"/><polyline points="470.2,280.7 461.0,268.0" fill="none" stroke="#8A8A8A" stroke-width="0.8"/><polyline points="473.5,232.0 470.5,232.0 468.3,248.0" fill="none" stroke="#8A8A8A" stroke-width="0.8"/><polyline points="487.5,296.9 489.2,281.0" fill="none" stroke="#8A8A8A" stroke-width="0.8"/><polyline points="506.8,239.7 503.8,239.7 496.5,257.9" fill="none" stroke="#8A8A8A" stroke-width="0.8"/><polyline points="515.6,284.9 510.6,275.7" fill="none" stroke="#8A8A8A" stroke-width="0.8"/><polyline points="537.7,254.7 534.7,254.7 517.9,264.0" fill="none" stroke="#8A8A8A" stroke-width="0.8"/><polyline points="536.3,323.5 539.3,323.5 545.6,317.3" fill="none" stroke="#8A8A8A" stroke-width="0.8"/><polyline points="554.2,346.3 557.2,346.3 566.8,341.5" fill="none" stroke="#8A8A8A" stroke-width="0.8"/><polyline points="592.0,353.0 589.0,353.0 581.3,357.8" fill="none" stroke="#8A8A8A" stroke-width="0.8"/><polyline points="586.8,369.7 583.8,369.7 574.3,370.3" fill="none" stroke="#8A8A8A" stroke-width="0.8"/><polyline points="623.0,314.4 616.3,301.8" fill="none" stroke="#8A8A8A" stroke-width="0.8"/><polyline points="603.3,279.6 609.3,290.8" fill="none" stroke="#8A8A8A" stroke-width="0.8"/><polyline points="638.4,305.2 635.4,305.2 630.4,288.0" fill="none" stroke="#8A8A8A" stroke-width="0.8"/><polyline points="656.9,282.9 653.9,282.9 644.7,278.1" fill="none" stroke="#8A8A8A" stroke-width="0.8"/><polyline points="639.2,259.7 642.2,259.7 651.3,262.4" fill="none" stroke="#8A8A8A" stroke-width="0.8"/><polyline points="675.3,257.4 672.3,257.4 666.5,247.8" fill="none" stroke="#8A8A8A" stroke-width="0.8"/><polyline points="657.9,235.7 660.9,235.7 672.6,236.5" fill="none" stroke="#8A8A8A" stroke-width="0.8"/><polyline points="668.6,221.0 671.6,221.0 679.7,226.5" fill="none" stroke="#8A8A8A" stroke-width="0.8"/><polyline points="706.5,237.8 703.5,237.8 694.2,223.7" fill="none" stroke="#8A8A8A" stroke-width="0.8"/><polyline points="685.6,205.5 701.1,209.1" fill="none" stroke="#8A8A8A" stroke-width="0.8"/><polyline points="729.4,208.4 726.4,208.4 722.4,204.6" fill="none" stroke="#8A8A8A" stroke-width="0.8"/><polyline points="717.8,188.2 720.8,188.2 729.0,189.0" fill="none" stroke="#8A8A8A" stroke-width="0.8"/><polyline points="729.8,169.1 743.5,175.1" fill="none" stroke="#8A8A8A" stroke-width="0.8"/><polyline points="762.5,181.2 759.5,181.2 750.8,175.5" fill="none" stroke="#8A8A8A" stroke-width="0.8"/><polyline points="753.0,136.1 756.0,136.1 757.6,144.5" fill="none" stroke="#8A8A8A" stroke-width="0.8"/><polyline points="775.4,163.7 772.4,163.7 764.6,160.3" fill="none" stroke="#8A8A8A" stroke-width="0.8"/><polyline points="785.8,136.5 782.8,136.5 771.9,134.9" fill="none" stroke="#8A8A8A" stroke-width="0.8"/><polyline points="790.0,109.3 787.0,109.3 779.2,116.5" fill="none" stroke="#8A8A8A" stroke-width="0.8"/>
<polyline points="108.1,405.5 115,393.6 122.1,389.6 128.7,383.7 133.8,378.9 135.9,384.1 142.8,369.3 150,359 156.3,356.7 163.4,351.5 171,349.7 178.6,350 185,322.2 192.8,323.8 199.6,337.8 206.2,326.1 213.6,347.1 220.4,333.9 225,319.8 227,329.2 234.7,314.7 241.9,302.6 249.1,304.6 256.1,311.3 263.3,304.3 270.1,297.1 277.1,287.7 283.9,276.7 291.1,265 298.5,261.1 305.7,273.7 312.4,309.4 317.9,304.6 319.5,329 326.8,348.7 334,312.5 340.6,316 348,316.7 354.9,336.6 362,336.8 369,318.1 376,290.7 379.1,308.2 383.5,295 390.8,286.2 397.4,279.7 404.4,280.1 410.6,271.4 418.2,262.9 425.5,261.2 432.4,269.5 439.7,279.2 446.9,274.3 453.9,263.6 461,268 468.3,248 471.3,260.5 482,269.2 489.2,281 496.5,257.9 503.5,263 510.6,275.7 517.9,264 524.9,275 531.9,292.6 538.4,303.7 545.6,317.3 552.6,296.2 560,290 562.9,308.6 566.8,341.5 574.3,370.3 581.3,357.8 588.4,338 593.5,331.6 595.1,312.8 602.5,305.4 609.3,290.8 616.3,301.8 623.3,290.7 630.4,288 637.5,281.8 644.7,278.1 651.3,262.4 654.5,258.9 659,253.5 666.5,247.8 672.6,236.5 679.7,226.5 686.2,222.1 694.2,223.7 701.1,209.1 708.2,211.1 715.3,209.8 722.4,204.6 729,189 736.7,181.9 743.5,175.1 746.9,176.9 750.8,175.5 757.6,144.5 764.6,160.3 771.9,134.9 779.2,116.5" fill="none" stroke="#EC1010" stroke-width="3.2" stroke-linejoin="round"/>
<circle cx="108.1" cy="405.5" r="3.8" fill="#FFFF00" stroke="#C81C00" stroke-width="2"/><circle cx="115" cy="393.6" r="3.8" fill="#FFFF00" stroke="#C81C00" stroke-width="2"/><circle cx="122.1" cy="389.6" r="3.8" fill="#FFFF00" stroke="#C81C00" stroke-width="2"/><circle cx="128.7" cy="383.7" r="3.8" fill="#FFFF00" stroke="#C81C00" stroke-width="2"/><circle cx="133.8" cy="378.9" r="3.8" fill="#FFFF00" stroke="#C81C00" stroke-width="2"/><circle cx="135.9" cy="384.1" r="3.8" fill="#FFFF00" stroke="#C81C00" stroke-width="2"/><circle cx="142.8" cy="369.3" r="3.8" fill="#FFFF00" stroke="#C81C00" stroke-width="2"/><circle cx="150" cy="359" r="3.8" fill="#FFFF00" stroke="#C81C00" stroke-width="2"/><circle cx="156.3" cy="356.7" r="3.8" fill="#FFFF00" stroke="#C81C00" stroke-width="2"/><circle cx="163.4" cy="351.5" r="3.8" fill="#FFFF00" stroke="#C81C00" stroke-width="2"/><circle cx="171" cy="349.7" r="3.8" fill="#FFFF00" stroke="#C81C00" stroke-width="2"/><circle cx="178.6" cy="350" r="3.8" fill="#FFFF00" stroke="#C81C00" stroke-width="2"/><circle cx="185" cy="322.2" r="3.8" fill="#FFFF00" stroke="#C81C00" stroke-width="2"/><circle cx="192.8" cy="323.8" r="3.8" fill="#FFFF00" stroke="#C81C00" stroke-width="2"/><circle cx="199.6" cy="337.8" r="3.8" fill="#FFFF00" stroke="#C81C00" stroke-width="2"/><circle cx="206.2" cy="326.1" r="3.8" fill="#FFFF00" stroke="#C81C00" stroke-width="2"/><circle cx="213.6" cy="347.1" r="3.8" fill="#FFFF00" stroke="#C81C00" stroke-width="2"/><circle cx="220.4" cy="333.9" r="3.8" fill="#FFFF00" stroke="#C81C00" stroke-width="2"/><circle cx="225" cy="319.8" r="3.8" fill="#FFFF00" stroke="#C81C00" stroke-width="2"/><circle cx="227" cy="329.2" r="3.8" fill="#FFFF00" stroke="#C81C00" stroke-width="2"/><circle cx="234.7" cy="314.7" r="3.8" fill="#FFFF00" stroke="#C81C00" stroke-width="2"/><circle cx="241.9" cy="302.6" r="3.8" fill="#FFFF00" stroke="#C81C00" stroke-width="2"/><circle cx="249.1" cy="304.6" r="3.8" fill="#FFFF00" stroke="#C81C00" stroke-width="2"/><circle cx="256.1" cy="311.3" r="3.8" fill="#FFFF00" stroke="#C81C00" stroke-width="2"/><circle cx="263.3" cy="304.3" r="3.8" fill="#FFFF00" stroke="#C81C00" stroke-width="2"/><circle cx="270.1" cy="297.1" r="3.8" fill="#FFFF00" stroke="#C81C00" stroke-width="2"/><circle cx="277.1" cy="287.7" r="3.8" fill="#FFFF00" stroke="#C81C00" stroke-width="2"/><circle cx="283.9" cy="276.7" r="3.8" fill="#FFFF00" stroke="#C81C00" stroke-width="2"/><circle cx="291.1" cy="265" r="3.8" fill="#FFFF00" stroke="#C81C00" stroke-width="2"/><circle cx="298.5" cy="261.1" r="3.8" fill="#FFFF00" stroke="#C81C00" stroke-width="2"/><circle cx="305.7" cy="273.7" r="3.8" fill="#FFFF00" stroke="#C81C00" stroke-width="2"/><circle cx="312.4" cy="309.4" r="3.8" fill="#FFFF00" stroke="#C81C00" stroke-width="2"/><circle cx="317.9" cy="304.6" r="3.8" fill="#FFFF00" stroke="#C81C00" stroke-width="2"/><circle cx="319.5" cy="329" r="3.8" fill="#FFFF00" stroke="#C81C00" stroke-width="2"/><circle cx="326.8" cy="348.7" r="3.8" fill="#FFFF00" stroke="#C81C00" stroke-width="2"/><circle cx="334" cy="312.5" r="3.8" fill="#FFFF00" stroke="#C81C00" stroke-width="2"/><circle cx="340.6" cy="316" r="3.8" fill="#FFFF00" stroke="#C81C00" stroke-width="2"/><circle cx="348" cy="316.7" r="3.8" fill="#FFFF00" stroke="#C81C00" stroke-width="2"/><circle cx="354.9" cy="336.6" r="3.8" fill="#FFFF00" stroke="#C81C00" stroke-width="2"/><circle cx="362" cy="336.8" r="3.8" fill="#FFFF00" stroke="#C81C00" stroke-width="2"/><circle cx="369" cy="318.1" r="3.8" fill="#FFFF00" stroke="#C81C00" stroke-width="2"/><circle cx="376" cy="290.7" r="3.8" fill="#FFFF00" stroke="#C81C00" stroke-width="2"/><circle cx="379.1" cy="308.2" r="3.8" fill="#FFFF00" stroke="#C81C00" stroke-width="2"/><circle cx="383.5" cy="295" r="3.8" fill="#FFFF00" stroke="#C81C00" stroke-width="2"/><circle cx="390.8" cy="286.2" r="3.8" fill="#FFFF00" stroke="#C81C00" stroke-width="2"/><circle cx="397.4" cy="279.7" r="3.8" fill="#FFFF00" stroke="#C81C00" stroke-width="2"/><circle cx="404.4" cy="280.1" r="3.8" fill="#FFFF00" stroke="#C81C00" stroke-width="2"/><circle cx="410.6" cy="271.4" r="3.8" fill="#FFFF00" stroke="#C81C00" stroke-width="2"/><circle cx="418.2" cy="262.9" r="3.8" fill="#FFFF00" stroke="#C81C00" stroke-width="2"/><circle cx="425.5" cy="261.2" r="3.8" fill="#FFFF00" stroke="#C81C00" stroke-width="2"/><circle cx="432.4" cy="269.5" r="3.8" fill="#FFFF00" stroke="#C81C00" stroke-width="2"/><circle cx="439.7" cy="279.2" r="3.8" fill="#FFFF00" stroke="#C81C00" stroke-width="2"/><circle cx="446.9" cy="274.3" r="3.8" fill="#FFFF00" stroke="#C81C00" stroke-width="2"/><circle cx="453.9" cy="263.6" r="3.8" fill="#FFFF00" stroke="#C81C00" stroke-width="2"/><circle cx="461" cy="268" r="3.8" fill="#FFFF00" stroke="#C81C00" stroke-width="2"/><circle cx="468.3" cy="248" r="3.8" fill="#FFFF00" stroke="#C81C00" stroke-width="2"/><circle cx="471.3" cy="260.5" r="3.8" fill="#FFFF00" stroke="#C81C00" stroke-width="2"/><circle cx="482" cy="269.2" r="3.8" fill="#FFFF00" stroke="#C81C00" stroke-width="2"/><circle cx="489.2" cy="281" r="3.8" fill="#FFFF00" stroke="#C81C00" stroke-width="2"/><circle cx="496.5" cy="257.9" r="3.8" fill="#FFFF00" stroke="#C81C00" stroke-width="2"/><circle cx="503.5" cy="263" r="3.8" fill="#FFFF00" stroke="#C81C00" stroke-width="2"/><circle cx="510.6" cy="275.7" r="3.8" fill="#FFFF00" stroke="#C81C00" stroke-width="2"/><circle cx="517.9" cy="264" r="3.8" fill="#FFFF00" stroke="#C81C00" stroke-width="2"/><circle cx="524.9" cy="275" r="3.8" fill="#FFFF00" stroke="#C81C00" stroke-width="2"/><circle cx="531.9" cy="292.6" r="3.8" fill="#FFFF00" stroke="#C81C00" stroke-width="2"/><circle cx="538.4" cy="303.7" r="3.8" fill="#FFFF00" stroke="#C81C00" stroke-width="2"/><circle cx="545.6" cy="317.3" r="3.8" fill="#FFFF00" stroke="#C81C00" stroke-width="2"/><circle cx="552.6" cy="296.2" r="3.8" fill="#FFFF00" stroke="#C81C00" stroke-width="2"/><circle cx="560" cy="290" r="3.8" fill="#FFFF00" stroke="#C81C00" stroke-width="2"/><circle cx="562.9" cy="308.6" r="3.8" fill="#FFFF00" stroke="#C81C00" stroke-width="2"/><circle cx="566.8" cy="341.5" r="3.8" fill="#FFFF00" stroke="#C81C00" stroke-width="2"/><circle cx="574.3" cy="370.3" r="3.8" fill="#FFFF00" stroke="#C81C00" stroke-width="2"/><circle cx="581.3" cy="357.8" r="3.8" fill="#FFFF00" stroke="#C81C00" stroke-width="2"/><circle cx="588.4" cy="338" r="3.8" fill="#FFFF00" stroke="#C81C00" stroke-width="2"/><circle cx="593.5" cy="331.6" r="3.8" fill="#FFFF00" stroke="#C81C00" stroke-width="2"/><circle cx="595.1" cy="312.8" r="3.8" fill="#FFFF00" stroke="#C81C00" stroke-width="2"/><circle cx="602.5" cy="305.4" r="3.8" fill="#FFFF00" stroke="#C81C00" stroke-width="2"/><circle cx="609.3" cy="290.8" r="3.8" fill="#FFFF00" stroke="#C81C00" stroke-width="2"/><circle cx="616.3" cy="301.8" r="3.8" fill="#FFFF00" stroke="#C81C00" stroke-width="2"/><circle cx="623.3" cy="290.7" r="3.8" fill="#FFFF00" stroke="#C81C00" stroke-width="2"/><circle cx="630.4" cy="288" r="3.8" fill="#FFFF00" stroke="#C81C00" stroke-width="2"/><circle cx="637.5" cy="281.8" r="3.8" fill="#FFFF00" stroke="#C81C00" stroke-width="2"/><circle cx="644.7" cy="278.1" r="3.8" fill="#FFFF00" stroke="#C81C00" stroke-width="2"/><circle cx="651.3" cy="262.4" r="3.8" fill="#FFFF00" stroke="#C81C00" stroke-width="2"/><circle cx="654.5" cy="258.9" r="3.8" fill="#FFFF00" stroke="#C81C00" stroke-width="2"/><circle cx="659" cy="253.5" r="3.8" fill="#FFFF00" stroke="#C81C00" stroke-width="2"/><circle cx="666.5" cy="247.8" r="3.8" fill="#FFFF00" stroke="#C81C00" stroke-width="2"/><circle cx="672.6" cy="236.5" r="3.8" fill="#FFFF00" stroke="#C81C00" stroke-width="2"/><circle cx="679.7" cy="226.5" r="3.8" fill="#FFFF00" stroke="#C81C00" stroke-width="2"/><circle cx="686.2" cy="222.1" r="3.8" fill="#FFFF00" stroke="#C81C00" stroke-width="2"/><circle cx="694.2" cy="223.7" r="3.8" fill="#FFFF00" stroke="#C81C00" stroke-width="2"/><circle cx="701.1" cy="209.1" r="3.8" fill="#FFFF00" stroke="#C81C00" stroke-width="2"/><circle cx="708.2" cy="211.1" r="3.8" fill="#FFFF00" stroke="#C81C00" stroke-width="2"/><circle cx="715.3" cy="209.8" r="3.8" fill="#FFFF00" stroke="#C81C00" stroke-width="2"/><circle cx="722.4" cy="204.6" r="3.8" fill="#FFFF00" stroke="#C81C00" stroke-width="2"/><circle cx="729" cy="189" r="3.8" fill="#FFFF00" stroke="#C81C00" stroke-width="2"/><circle cx="736.7" cy="181.9" r="3.8" fill="#FFFF00" stroke="#C81C00" stroke-width="2"/><circle cx="743.5" cy="175.1" r="3.8" fill="#FFFF00" stroke="#C81C00" stroke-width="2"/><circle cx="746.9" cy="176.9" r="3.8" fill="#FFFF00" stroke="#C81C00" stroke-width="2"/><circle cx="750.8" cy="175.5" r="3.8" fill="#FFFF00" stroke="#C81C00" stroke-width="2"/><circle cx="757.6" cy="144.5" r="3.8" fill="#FFFF00" stroke="#C81C00" stroke-width="2"/><circle cx="764.6" cy="160.3" r="3.8" fill="#FFFF00" stroke="#C81C00" stroke-width="2"/><circle cx="771.9" cy="134.9" r="3.8" fill="#FFFF00" stroke="#C81C00" stroke-width="2"/><circle cx="779.2" cy="116.5" r="3.8" fill="#FFFF00" stroke="#C81C00" stroke-width="2"/>
<g font-family="Liberation Sans, sans-serif" font-size="12.3" fill="#75603F"><text x="119.8" y="412.7" textLength="32.3" lengthAdjust="spacingAndGlyphs">26.4%</text><text x="142.5" y="400.6" textLength="32.3" lengthAdjust="spacingAndGlyphs">30.2%</text><text x="96.1" y="371.1" textLength="32.3" lengthAdjust="spacingAndGlyphs">30.8%</text><text x="113.2" y="358.6" textLength="32.3" lengthAdjust="spacingAndGlyphs">32.7%</text><text x="140.9" y="338.0" textLength="32.3" lengthAdjust="spacingAndGlyphs">36.1%</text><text x="162.0" y="376.0" textLength="32.3" lengthAdjust="spacingAndGlyphs">36.0%</text><text x="182.5" y="364.9" textLength="32.3" lengthAdjust="spacingAndGlyphs">38.2%</text><text x="151.4" y="311.8" textLength="32.3" lengthAdjust="spacingAndGlyphs">40.9%</text><text x="184.8" y="315.1" textLength="32.3" lengthAdjust="spacingAndGlyphs">40.2%</text><text x="201.0" y="305.0" textLength="32.3" lengthAdjust="spacingAndGlyphs">41.4%</text><text x="221.4" y="358.9" textLength="32.3" lengthAdjust="spacingAndGlyphs">36.6%</text><text x="242.2" y="345.2" textLength="32.3" lengthAdjust="spacingAndGlyphs">39.6%</text><text x="227.3" y="287.9" textLength="32.3" lengthAdjust="spacingAndGlyphs">44.2%</text><text x="246.8" y="333.7" textLength="32.3" lengthAdjust="spacingAndGlyphs">42.8%</text><text x="289.7" y="251.3" textLength="32.3" lengthAdjust="spacingAndGlyphs">51.5%</text><text x="271.3" y="317.8" textLength="32.3" lengthAdjust="spacingAndGlyphs">43.2%</text><text x="316.8" y="294.5" textLength="32.3" lengthAdjust="spacingAndGlyphs">44.0%</text><text x="341.3" y="306.1" textLength="32.3" lengthAdjust="spacingAndGlyphs">42.6%</text><text x="275.2" y="350.8" textLength="32.3" lengthAdjust="spacingAndGlyphs">39.8%</text><text x="316.9" y="372.9" textLength="32.3" lengthAdjust="spacingAndGlyphs">36.3%</text><text x="335.3" y="359.3" textLength="32.3" lengthAdjust="spacingAndGlyphs">38.4%</text><text x="375.9" y="337.3" textLength="32.3" lengthAdjust="spacingAndGlyphs">38.4%</text><text x="345.5" y="279.3" textLength="32.3" lengthAdjust="spacingAndGlyphs">46.4%</text><text x="399.3" y="314.5" textLength="32.3" lengthAdjust="spacingAndGlyphs">43.3%</text><text x="396.4" y="246.0" textLength="32.3" lengthAdjust="spacingAndGlyphs">51.5%</text><text x="433.5" y="311.6" textLength="32.3" lengthAdjust="spacingAndGlyphs">48.4%</text><text x="431.8" y="253.3" textLength="32.3" lengthAdjust="spacingAndGlyphs">51.1%</text><text x="454.0" y="291.4" textLength="32.3" lengthAdjust="spacingAndGlyphs">50.4%</text><text x="474.5" y="236.2" textLength="32.3" lengthAdjust="spacingAndGlyphs">53.8%</text><text x="471.3" y="307.6" textLength="32.3" lengthAdjust="spacingAndGlyphs">48.2%</text><text x="507.8" y="243.9" textLength="32.3" lengthAdjust="spacingAndGlyphs">52.1%</text><text x="499.4" y="295.6" textLength="32.3" lengthAdjust="spacingAndGlyphs">49.0%</text><text x="538.7" y="258.9" textLength="32.3" lengthAdjust="spacingAndGlyphs">51.0%</text><text x="543.1" y="281.8" textLength="32.3" lengthAdjust="spacingAndGlyphs">46.6%</text><text x="503.0" y="327.7" textLength="32.3" lengthAdjust="spacingAndGlyphs">41.8%</text><text x="520.9" y="350.5" textLength="32.3" lengthAdjust="spacingAndGlyphs">37.6%</text><text x="593.0" y="357.2" textLength="32.3" lengthAdjust="spacingAndGlyphs">34.7%</text><text x="587.8" y="373.9" textLength="32.3" lengthAdjust="spacingAndGlyphs">32.5%</text><text x="606.8" y="325.1" textLength="32.3" lengthAdjust="spacingAndGlyphs">44.5%</text><text x="587.1" y="277.3" textLength="32.3" lengthAdjust="spacingAndGlyphs">46.3%</text><text x="639.4" y="309.4" textLength="32.3" lengthAdjust="spacingAndGlyphs">46.5%</text><text x="657.9" y="287.1" textLength="32.3" lengthAdjust="spacingAndGlyphs">48.6%</text><text x="605.9" y="263.9" textLength="32.3" lengthAdjust="spacingAndGlyphs">51.4%</text><text x="676.3" y="261.6" textLength="32.3" lengthAdjust="spacingAndGlyphs">54.0%</text><text x="624.6" y="239.9" textLength="32.3" lengthAdjust="spacingAndGlyphs">55.8%</text><text x="635.3" y="225.2" textLength="32.3" lengthAdjust="spacingAndGlyphs">57.6%</text><text x="707.5" y="242.0" textLength="32.3" lengthAdjust="spacingAndGlyphs">58.1%</text><text x="669.4" y="203.2" textLength="32.3" lengthAdjust="spacingAndGlyphs">60.6%</text><text x="730.4" y="212.6" textLength="32.3" lengthAdjust="spacingAndGlyphs">61.5%</text><text x="684.5" y="192.4" textLength="32.3" lengthAdjust="spacingAndGlyphs">64.1%</text><text x="713.6" y="166.8" textLength="32.3" lengthAdjust="spacingAndGlyphs">66.5%</text><text x="763.5" y="185.4" textLength="32.3" lengthAdjust="spacingAndGlyphs">66.5%</text><text x="719.7" y="140.3" textLength="32.3" lengthAdjust="spacingAndGlyphs">71.9%</text><text x="776.4" y="167.9" textLength="32.3" lengthAdjust="spacingAndGlyphs">69.2%</text><text x="786.8" y="140.7" textLength="32.3" lengthAdjust="spacingAndGlyphs">73.6%</text><text x="791.0" y="113.5" textLength="32.3" lengthAdjust="spacingAndGlyphs">76.7%</text></g>
<g font-family="Liberation Sans, sans-serif" font-size="14.3" font-weight="bold" fill="#1A1A22"><text x="85.4" y="562.6" text-anchor="end">¥0</text><text x="85.4" y="505.2" text-anchor="end">¥10</text><text x="85.4" y="447.8" text-anchor="end">¥20</text><text x="85.4" y="390.4" text-anchor="end">¥30</text><text x="85.4" y="333.0" text-anchor="end">¥40</text><text x="85.4" y="275.5" text-anchor="end">¥50</text><text x="85.4" y="218.1" text-anchor="end">¥60</text><text x="85.4" y="160.7" text-anchor="end">¥70</text><text x="85.4" y="103.3" text-anchor="end">¥80</text><text x="85.4" y="45.9" text-anchor="end">¥90</text></g>
<g transform="translate(946.7,0) scale(0.9,1)" font-family="Liberation Sans, sans-serif" font-size="14.5" font-weight="bold" fill="#1A1A22"><text x="0" y="562.4">0%</text><text x="0" y="505.0">10%</text><text x="0" y="447.6">20%</text><text x="0" y="390.2">30%</text><text x="0" y="332.8">40%</text><text x="0" y="275.3">50%</text><text x="0" y="217.9">60%</text><text x="0" y="160.5">70%</text><text x="0" y="103.1">80%</text><text x="0" y="45.7">90%</text></g>
<text x="60.6" y="49" class="jp" font-size="5" fill="#555" writing-mode="tb">万円</text>
<g class="jp" font-size="16.5" font-weight="bold" fill="#1A1A22"><text x="28.3" y="202" text-anchor="middle">損</text><text x="28.3" y="232" text-anchor="middle">益</text><text x="27.2" y="262" text-anchor="middle">万円</text><text x="-8.1" y="262" font-weight="normal">［</text><text x="47.1" y="262" font-weight="normal">］</text><text x="997" y="197" text-anchor="middle">損</text><text x="997" y="228" text-anchor="middle">益</text><text x="996.5" y="256.5" text-anchor="middle" font-weight="normal">％</text><text x="970" y="256.5" font-weight="normal">［</text><text x="1007.5" y="256.5" font-weight="normal">］</text></g>
<g class="jp" font-size="15" letter-spacing="0.6" font-weight="bold" fill="#202020"><text x="225" y="22.8">旧ＮＩＳＡ【一般</text><text x="348" y="22.8" textLength="30" lengthAdjust="spacingAndGlyphs" font-family="Liberation Sans, sans-serif" font-size="14.5">NISA</text><text x="377.5" y="22.8">】</text><text x="411.3" y="22.8">投資信託「ｅＭＡＸＩＳ　Ｓｌｉｍ１３本」積み立て</text></g>
<rect x="802" y="224.6" width="13" height="10.4" fill="#0DA84E"/>
<text x="815.5" y="233.6" class="jp" font-size="15" font-weight="bold" fill="#1A1A22">損益（金額）</text>
<line x1="801.4" y1="291" x2="814.8" y2="291" stroke="#F01010" stroke-width="3"/>
<circle cx="808.2" cy="291" r="3.8" fill="#FFFF00" stroke="#C81C00" stroke-width="2"/>
<text x="815.5" y="296" class="jp" font-size="15" font-weight="bold" fill="#1A1A22">損益（％）</text>
<text x="84.8" y="576.6" textLength="37.6" lengthAdjust="spacing" class="jp" font-size="12" font-weight="bold" fill="#A0308A" filter="url(#glow)">1月1日</text>
<text x="454.1" y="576.6" textLength="37.6" lengthAdjust="spacing" class="jp" font-size="12" font-weight="bold" fill="#A0308A" filter="url(#glow)">1月1日</text>
<text x="822.5" y="576.6" textLength="37.6" lengthAdjust="spacing" class="jp" font-size="12" font-weight="bold" fill="#A0308A" filter="url(#glow)">1月1日</text>
<text x="260.5" y="597.5" class="jp" font-size="16.5" fill="#B84A9C" filter="url(#glow)">2024年</text>
<text x="636.3" y="594.8" class="jp" font-size="16.5" fill="#B84A9C" filter="url(#glow)">2025年</text>
</svg></body></html>
